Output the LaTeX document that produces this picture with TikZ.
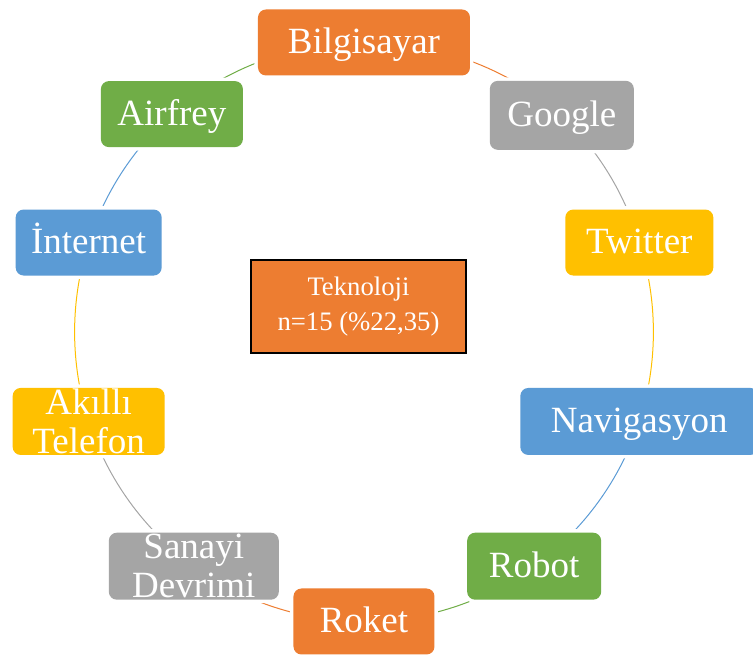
\documentclass[tikz,border=0pt]{standalone}
\usepackage{fontspec}
\setmainfont{Liberation Serif}
\usetikzlibrary{backgrounds}
\definecolor{orangec}{HTML}{ED7D31}
\definecolor{grayc}{HTML}{A5A5A5}
\definecolor{goldc}{HTML}{FFC000}
\definecolor{bluec}{HTML}{5B9BD5}
\definecolor{greenc}{HTML}{70AD47}
\tikzset{
  item/.style={rounded corners=8pt, text=white, inner sep=0pt, align=center,
    font=\fontsize{37}{39}\selectfont, minimum height=66pt,
    preaction={draw=white, line width=7pt}},
  oneline/.style={text height=27pt, text depth=5pt},
  link/.style={line width=1pt, looseness=0.87},
  topic/.style={fill=orangec, draw=black, line width=1.2pt, text=white,
    inner sep=0pt, align=center, minimum width=215pt, minimum height=93pt,
    font=\fontsize{26.7}{35.5}\selectfont}
}
\begin{document}
\begin{tikzpicture}[x=1pt, y=1pt]
      \useasboundingbox (-364,-323) rectangle (389,332);
      \draw
        (90:289.5) node[item, oneline, fill=orangec, minimum width=212pt] (bilgisayar){Bilgisayar}
        (47.6:293.4) node[item, oneline, fill=grayc, minimum width=144pt, minimum height=69pt] (google){Google}
        (18:289.5) node[item, oneline, fill=goldc, minimum width=148pt] (twitter){Twitter}
        (-18:289.5) node[item, oneline, fill=bluec, minimum width=238pt, minimum height=67pt] (navigasyon){Navigasyon}
        (-54:289.5) node[item, oneline, fill=greenc, minimum width=134pt, minimum height=67pt] (robot){Robot}
        (-90:289.5) node[item, oneline, fill=orangec, minimum width=141pt] (roket){Roket}
        (-126:289.5) node[item, fill=grayc, minimum width=170pt, minimum height=67pt] (sanayi){Sanayi\\Devrimi}
        (-162:289.5) node[item, fill=goldc, minimum width=152pt, minimum height=67pt] (akilli){Akıllı\\Telefon}
        (162:289.5) node[item, oneline, fill=bluec, minimum width=146pt] (internet){İnternet}
        (131.4:290.5) node[item, oneline, fill=greenc, minimum width=142pt] (airfrey){Airfrey};
      \node[topic] (teknoloji) at (-5.5,25.5) {Teknoloji\\n=15 (\%22,35)};
      \begin{pgfonlayer}{background}
        \draw[link, orangec] (bilgisayar.center) to[bend left=21.2] (google.center);
        \draw[link, grayc] (google.center) to[bend left=14.8] (twitter.center);
        \draw[link, goldc] (twitter.center) to[bend left=18] (navigasyon.center);
        \draw[link, bluec] (navigasyon.center) to[bend left=18] (robot.center);
        \draw[link, greenc] (robot.center) to[bend left=18] (roket.center);
        \draw[link, orangec] (roket.center) to[bend left=18] (sanayi.center);
        \draw[link, grayc] (sanayi.center) to[bend left=18] (akilli.center);
        \draw[link, goldc] (akilli.center) to[bend left=18] (internet.center);
        \draw[link, bluec] (internet.center) to[bend left=15.3] (airfrey.center);
        \draw[link, greenc] (airfrey.center) to[bend left=20.7] (bilgisayar.center);
      \end{pgfonlayer}
    \end{tikzpicture}
\end{document}
